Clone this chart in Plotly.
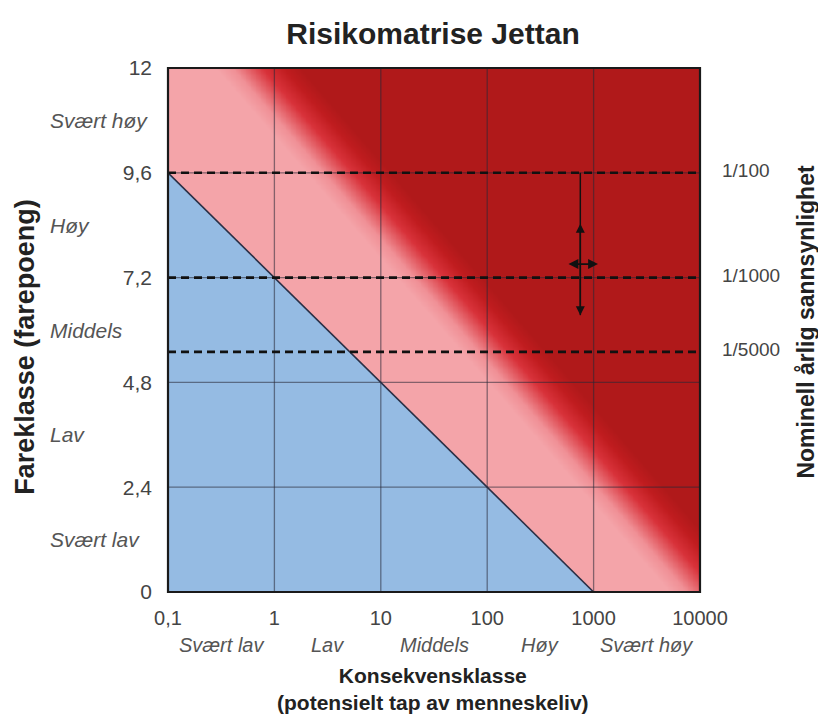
import numpy as np
import plotly.graph_objects as go

# ---------------- data ----------------
x_ticks = [0.1, 1, 10, 100, 1000, 10000]
x_tick_text = ["0,1", "1", "10", "100", "1000", "10000"]
x_categories = ["Svært lav", "Lav", "Middels", "Høy", "Svært høy"]

y_ticks = [0, 2.4, 4.8, 7.2, 9.6, 12]
y_tick_text = ["0", "2,4", "4,8", "7,2", "9,6", "12"]
y_categories = ["Svært lav", "Lav", "Middels", "Høy", "Svært høy"]

prob_y = [9.6, 7.2, 5.5]
prob_text = ["1/100", "1/1000", "1/5000"]

# acceptance line (blue zone below)
accept_x = [0.1, 1000]
accept_y = [9.6, 0]

# centre of the pink -> dark red transition
red_edge_x = [0.7, 13000]
red_edge_y = [12, 0]
red_blend_width = 0.8  # in decades

# arrows
arrow_x = 750
arrow_v_y = [6.34, 8.47]
arrow_v_top = 9.6
arrow_h_x = [562, 1100]
arrow_h_y = 7.51

BLUE = "#95bbe3"
PINK = "#f4a4a9"
RED = "#b0191a"
FONT = "Liberation Sans, Arial, sans-serif"

# ---------------- background gradient ----------------
gx = np.linspace(-1, 4, 320)
gy = np.linspace(0, 12, 220)
lx0, lx1 = np.log10(red_edge_x[0]), np.log10(red_edge_x[1])
edge = lx0 + (red_edge_y[0] - gy) / (red_edge_y[0] - red_edge_y[1]) * (lx1 - lx0)
Z = gx[None, :] - edge[:, None]

fig = go.Figure()
fig.add_trace(go.Heatmap(
    x=gx, y=gy, z=Z, xaxis="x", yaxis="y",
    zmin=-red_blend_width / 2, zmax=red_blend_width / 2,
    colorscale=[[0, PINK], [0.2, "#f09096"], [0.55, "#d8323a"], [0.8, "#c01c1f"], [1, RED]],
    showscale=False, zsmooth="best", hoverinfo="skip"))

# blue acceptable zone
fig.add_trace(go.Scatter(
    x=[accept_x[0], accept_x[0], accept_x[1]],
    y=[accept_y[1], accept_y[0], accept_y[1]],
    fill="toself", fillcolor=BLUE, mode="lines", line=dict(width=0),
    xaxis="x2", yaxis="y", hoverinfo="skip", showlegend=False))

# grid lines
gxs, gys = [], []
for v in x_ticks[1:-1]:
    gxs += [v, v, None]
    gys += [y_ticks[0], y_ticks[-1], None]
for v in y_ticks[1:-1]:
    gxs += [x_ticks[0], x_ticks[-1], None]
    gys += [v, v, None]
fig.add_trace(go.Scatter(x=gxs, y=gys, mode="lines",
                         line=dict(color="rgba(40,40,55,0.55)", width=1.3),
                         xaxis="x2", yaxis="y", hoverinfo="skip", showlegend=False))

# acceptance line
fig.add_trace(go.Scatter(x=accept_x, y=accept_y, mode="lines",
                         line=dict(color="#2a2f45", width=1.6),
                         xaxis="x2", yaxis="y", hoverinfo="skip", showlegend=False))

# dashed probability lines
dxs, dys = [], []
for v in prob_y:
    dxs += [x_ticks[0], x_ticks[-1], None]
    dys += [v, v, None]
fig.add_trace(go.Scatter(x=dxs, y=dys, mode="lines",
                         line=dict(color="#111111", width=2.6, dash="8px,5px"),
                         xaxis="x2", yaxis="y", hoverinfo="skip", showlegend=False))

# vertical arrow shaft
fig.add_trace(go.Scatter(x=[arrow_x, arrow_x], y=[arrow_v_top, arrow_v_y[0]], mode="lines",
                         line=dict(color="#111111", width=1.5),
                         xaxis="x2", yaxis="y", hoverinfo="skip", showlegend=False))

annotations = []
# arrows
annotations.append(dict(x=np.log10(arrow_x), y=arrow_v_y[0], ax=np.log10(arrow_x), ay=arrow_v_y[1],
                        xref="x2", yref="y", axref="x2", ayref="y", text="", showarrow=True,
                        arrowhead=2, startarrowhead=2, arrowside="end+start", arrowsize=1.2,
                        arrowwidth=1.5, arrowcolor="#111111"))
annotations.append(dict(x=np.log10(arrow_h_x[1]), y=arrow_h_y, ax=np.log10(arrow_h_x[0]), ay=arrow_h_y,
                        xref="x2", yref="y", axref="x2", ayref="y", text="", showarrow=True,
                        arrowhead=2, startarrowhead=2, arrowside="end+start", arrowsize=1.1,
                        arrowwidth=1.8, arrowcolor="#111111"))

# y category labels
for i, lab in enumerate(y_categories):
    yc = (y_ticks[i] + y_ticks[i + 1]) / 2
    annotations.append(dict(x=-0.2256, y=yc, xref="paper", yref="y", text=lab, showarrow=False,
                            xanchor="left", yanchor="middle",
                            font=dict(family=FONT, size=21, color="#555555", style="italic")))
# x category labels
for i, lab in enumerate(x_categories):
    xc = (np.log10(x_ticks[i]) + np.log10(x_ticks[i + 1])) / 2
    annotations.append(dict(x=xc, y=-0.101, xref="x2", yref="paper", text=lab, showarrow=False,
                            xanchor="center", yanchor="middle",
                            font=dict(family=FONT, size=20, color="#555555", style="italic")))
# right probability labels
for v, t in zip(prob_y, prob_text):
    annotations.append(dict(x=1.037, y=v, xref="paper", yref="y", text=t, showarrow=False,
                            xanchor="left", yanchor="middle", yshift=2,
                            font=dict(family=FONT, size=19, color="#444444")))
# axis titles
annotations.append(dict(x=0.498, y=-0.185, xref="paper", yref="paper",
                        text="<b>Konsekvensklasse</b><br><b>(potensielt tap av menneskeliv)</b>",
                        showarrow=False, xanchor="center", yanchor="middle",
                        font=dict(family=FONT, size=21, color="#222222")))
annotations.append(dict(x=-0.269, y=0.4676, xref="paper", yref="paper", text="<b>Fareklasse (farepoeng)</b>",
                        showarrow=False, xanchor="center", yanchor="middle", textangle=-90,
                        font=dict(family=FONT, size=27, color="#222222")))
annotations.append(dict(x=1.200, y=0.515, xref="paper", yref="paper",
                        text="<b>Nominell årlig sannsynlighet</b>",
                        showarrow=False, xanchor="center", yanchor="middle", textangle=-90,
                        font=dict(family=FONT, size=23, color="#222222")))

# page body has an 8px margin: figure is 818x710 so plot area lands where the reference has it
fig.update_layout(
    width=818, height=710,
    margin=dict(l=160, r=126, t=60, b=126),
    paper_bgcolor="white", plot_bgcolor="white",
    showlegend=False,
    title=dict(text="<b>Risikomatrise Jettan</b>", x=(433 - 8) / 818, xanchor="center",
               y=1 - 25 / 710, yanchor="middle",
               font=dict(family=FONT, size=30, color="#222222")),
    xaxis=dict(type="linear", range=[-1, 4], visible=False, fixedrange=True),
    xaxis2=dict(type="log", range=[-1, 4], overlaying="x", anchor="y", side="bottom",
                tickvals=x_ticks, ticktext=x_tick_text, showgrid=False, zeroline=False,
                ticks="", ticklabelstandoff=12,
                tickfont=dict(family=FONT, size=20, color="#444444")),
    yaxis=dict(range=[0, 12], tickvals=y_ticks, ticktext=y_tick_text, showgrid=False,
               zeroline=False, ticks="", ticklabelstandoff=15,
               tickfont=dict(family=FONT, size=21, color="#444444")),
    annotations=annotations,
    shapes=[dict(type="rect", xref="paper", yref="paper", x0=0, x1=1, y0=0, y1=1,
                 line=dict(color="#1a1a1a", width=2.2), layer="above")],
)

fig.write_html("out.html")
